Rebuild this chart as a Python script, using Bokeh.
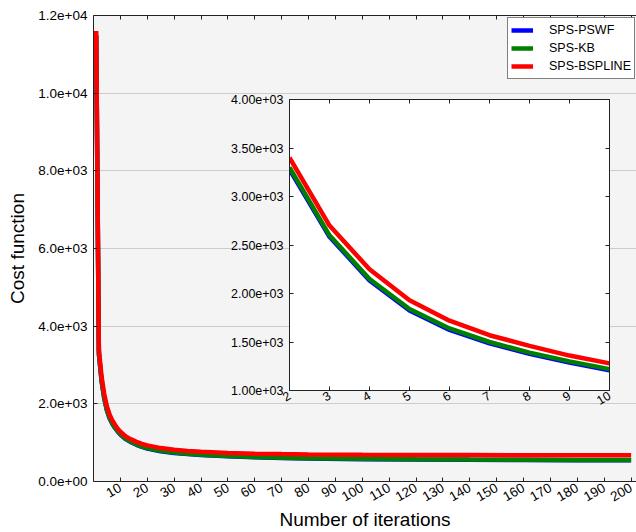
from math import pi

from bokeh.embed import file_html
from bokeh.models import (CustomJSTickFormatter, FixedTicker, Legend,
                          LegendItem, LinearAxis)
from bokeh.plotting import figure
from bokeh.resources import INLINE

# Cost function value per iteration for the three interpolation kernels
iterations = [1, 2, 3, 4, 5, 6, 7, 8, 9, 10, 12, 14, 16, 18, 20, 25, 30, 35,
              40, 50, 60, 70, 80, 100, 120, 140, 160, 180, 200]
cost_pswf = [11480, 3280, 2585, 2135, 1825, 1625, 1487, 1378, 1288, 1208,
             1090, 1010, 945, 890, 850, 781, 736, 705, 682, 647, 622, 604,
             592, 575, 564, 557, 552, 548, 545]
cost_kb = [11500, 3300, 2600, 2150, 1840, 1640, 1500, 1390, 1300, 1220,
           1100, 1020, 955, 900, 860, 790, 745, 713, 690, 655, 630, 612,
           600, 583, 572, 565, 560, 556, 553]
cost_bspline = [11600, 3400, 2700, 2250, 1930, 1720, 1570, 1460, 1360, 1280,
                1160, 1085, 1020, 970, 930, 860, 815, 785, 765, 735, 715,
                705, 697, 688, 683, 680, 678, 676, 675]

series_names = ["SPS-PSWF", "SPS-KB", "SPS-BSPLINE"]
series_values = [cost_pswf, cost_kb, cost_bspline]
series_colors = ["#0000ff", "#008000", "#ff0000"]

main_xticks = list(range(10, 201, 10))
main_yticks = [0, 2000, 4000, 6000, 8000, 10000, 12000]
inset_xticks = list(range(2, 11))
inset_yticks = [1000, 1500, 2000, 2500, 3000, 3500, 4000]

FONT = "Liberation Sans"
SPINE = "#222222"
W, H = 636, 532


def sci_formatter(digits):
    # matplotlib-style exponent with two digits, e.g. 1.2e+04
    return CustomJSTickFormatter(code=(
        "const s = tick.toExponential(" + str(digits) + ");"
        "return s.replace(/e([+-])(\\d)$/, (m, sg, d) => 'e' + sg + '0' + d);"
    ))


def style_axis(axis, ticks, size, show_labels=True):
    axis.ticker = FixedTicker(ticks=ticks)
    axis.major_tick_in = 4
    axis.major_tick_out = 0
    axis.minor_tick_line_color = None
    axis.axis_line_color = SPINE
    axis.major_tick_line_color = SPINE
    axis.major_label_text_font = FONT
    axis.major_label_text_color = "black"
    if show_labels:
        axis.major_label_text_font_size = size
        axis.major_label_standoff = 6
    else:
        axis.major_label_text_font_size = "0px"
        axis.major_label_text_color = None
        axis.major_label_standoff = 0


# ---- main plot --------------------------------------------------------
p = figure(width=W, height=H, x_range=(0, 202), y_range=(0, 12000),
           output_backend="svg", toolbar_location=None,
           min_border_left=93, min_border_right=0, min_border_top=15,
           min_border_bottom=50)
p.background_fill_color = "#f4f4f4"
p.border_fill_color = "white"
p.outline_line_color = None
p.xgrid.grid_line_color = None
p.ygrid.grid_line_color = "#cccccc"
p.ygrid.ticker = FixedTicker(ticks=main_yticks)

style_axis(p.xaxis[0], main_xticks, "13.5px")
p.xaxis[0].major_label_orientation = pi / 6
p.xaxis[0].major_label_standoff = 5
p.xaxis[0].axis_label = "Number of iterations"
p.xaxis[0].axis_label_standoff = 0

style_axis(p.yaxis[0], main_yticks, "13.5px")
p.yaxis[0].formatter = sci_formatter(1)
p.yaxis[0].axis_label = "Cost function"
p.yaxis[0].axis_label_standoff = 7

for ax in (p.xaxis[0], p.yaxis[0]):
    ax.axis_label_text_font = FONT
    ax.axis_label_text_font_size = "19px"
    ax.axis_label_text_font_style = "normal"
    ax.axis_label_text_color = "black"

top_axis = LinearAxis()
style_axis(top_axis, main_xticks, "0px", show_labels=False)
p.add_layout(top_axis, "above")

items = []
for name, vals, color in zip(series_names, series_values, series_colors):
    r = p.line(iterations, vals, line_width=4.5, line_color=color)
    items.append(LegendItem(label=name, renderers=[r]))

legend = Legend(items=items, location=(414, 402), margin=0, padding=3,
                spacing=0, glyph_width=22, glyph_height=18, label_height=18,
                label_standoff=16, label_text_font=FONT,
                label_text_font_size="12.5px", label_text_color="black",
                border_line_color="black", border_line_width=1,
                background_fill_color="white", background_fill_alpha=1)
p.add_layout(legend)

# ---- inset: iterations 2..10, overlaid on the same canvas size --------
ins = figure(width=W, height=H, x_range=(2, 10), y_range=(1000, 4000),
             output_backend="svg", toolbar_location=None,
             min_border_left=289, min_border_right=27, min_border_top=99,
             min_border_bottom=142)
ins.background_fill_color = "white"
ins.border_fill_color = None
ins.outline_line_color = SPINE
ins.xgrid.grid_line_color = None
ins.ygrid.grid_line_color = None

style_axis(ins.xaxis[0], inset_xticks, "12.5px")
ins.xaxis[0].major_label_orientation = pi / 6
ins.xaxis[0].major_label_standoff = 4
style_axis(ins.yaxis[0], inset_yticks, "12.5px")
ins.yaxis[0].formatter = sci_formatter(2)

ins_top = LinearAxis()
style_axis(ins_top, inset_xticks, "0px", show_labels=False)
ins.add_layout(ins_top, "above")
ins_right = LinearAxis()
style_axis(ins_right, inset_yticks, "0px", show_labels=False)
ins.add_layout(ins_right, "right")

zoom_idx = [i for i, it in enumerate(iterations) if 2 <= it <= 10]
zoom_iter = [iterations[i] for i in zoom_idx]
for vals, color in zip(series_values, series_colors):
    ins.line(zoom_iter, [vals[i] for i in zoom_idx], line_width=4.5,
             line_color=color)

ins.styles = {"position": "absolute", "left": "0px", "top": "0px"}

open("out.html", "w").write(file_html([p, ins], INLINE))
